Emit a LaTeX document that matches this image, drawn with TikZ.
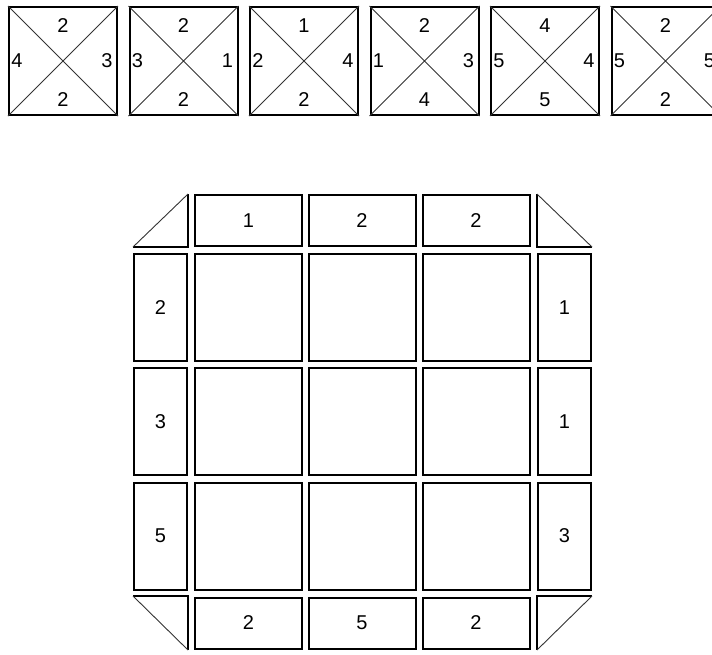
\documentclass[tikz,border=0pt]{standalone}
\usepackage{fontspec}
\setmainfont{Liberation Sans}
\usetikzlibrary{positioning}

\begin{document}
\begin{tikzpicture}[x=1pt, y=-1pt,
            tile/.style={draw=black, line width=2pt, minimum width=108pt, minimum height=108pt, inner sep=0pt},
            cellbox/.style={draw=black, line width=2pt, minimum width=107pt, minimum height=107pt, inner sep=0pt, font=\fontsize{20}{22}\selectfont},
            rowbox/.style={cellbox, minimum height=51pt},
            colbox/.style={cellbox, minimum width=53pt},
            diag/.style={draw=black!80, line width=0.9pt},
            edge/.style={draw=black, line width=2pt},
            num/.style={font=\fontsize{20}{22}\selectfont, inner sep=0pt}
        ]
            \useasboundingbox (0,0) rectangle (712,654);
            \clip (0,0) rectangle (712,654);

            % Top row (tiles)
            \node[tile] (t1) at (63, 61) {};
            \node[tile] (t2) at (183.5, 61) {};
            \node[tile] (t3) at (304, 61) {};
            \node[tile] (t4) at (424.5, 61) {};
            \node[tile] (t5) at (545, 61) {};
            \node[tile] (t6) at (665.5, 61) {};

            \draw[diag] (t1.north west) -- (t1.south east) (t1.north east) -- (t1.south west);
            \draw[diag] (t2.north west) -- (t2.south east) (t2.north east) -- (t2.south west);
            \draw[diag] (t3.north west) -- (t3.south east) (t3.north east) -- (t3.south west);
            \draw[diag] (t4.north west) -- (t4.south east) (t4.north east) -- (t4.south west);
            \draw[diag] (t5.north west) -- (t5.south east) (t5.north east) -- (t5.south west);
            \draw[diag] (t6.north west) -- (t6.south east) (t6.north east) -- (t6.south west);

            \node[num] (t1n) at (63, 26) {2};
            \node[num] (t1w) at (17, 61) {4};
            \node[num] (t1e) at (107, 61) {3};
            \node[num] (t1s) at (63, 100) {2};

            \node[num] (t2n) at (183.5, 26) {2};
            \node[num] (t2w) at (137.5, 61) {3};
            \node[num] (t2e) at (227.5, 61) {1};
            \node[num] (t2s) at (183.5, 100) {2};

            \node[num] (t3n) at (304, 26) {1};
            \node[num] (t3w) at (258, 61) {2};
            \node[num] (t3e) at (348, 61) {4};
            \node[num] (t3s) at (304, 100) {2};

            \node[num] (t4n) at (424.5, 26) {2};
            \node[num] (t4w) at (378.5, 61) {1};
            \node[num] (t4e) at (468.5, 61) {3};
            \node[num] (t4s) at (424.5, 100) {4};

            \node[num] (t5n) at (545, 26) {4};
            \node[num] (t5w) at (499, 61) {5};
            \node[num] (t5e) at (589, 61) {4};
            \node[num] (t5s) at (545, 100) {5};

            \node[num] (t6n) at (665.5, 26) {2};
            \node[num] (t6w) at (619.5, 61) {5};
            \node[num] (t6e) at (709.5, 61) {5};
            \node[num] (t6s) at (665.5, 100) {2};

            % Board: top and bottom edges
            \node[rowbox] (top1) at (248.5, 220.5) {1};
            \node[rowbox] (top2) at (362, 220.5) {2};
            \node[rowbox] (top3) at (476, 220.5) {2};
            \node[rowbox] (bot1) at (248.5, 623) {2};
            \node[rowbox] (bot2) at (362, 623) {5};
            \node[rowbox] (bot3) at (476, 623) {2};

            % Board: left and right edges
            \node[colbox] (lft1) at (160.5, 307.5) {2};
            \node[colbox] (lft2) at (160.5, 421.5) {3};
            \node[colbox] (lft3) at (160.5, 536) {5};
            \node[colbox] (rgt1) at (564.5, 307.5) {1};
            \node[colbox] (rgt2) at (564.5, 421.5) {1};
            \node[colbox] (rgt3) at (564.5, 536) {3};

            % Board: empty cells
            \node[cellbox] (c11) at (248.5, 307.5) {};
            \node[cellbox] (c12) at (362, 307.5) {};
            \node[cellbox] (c13) at (476, 307.5) {};
            \node[cellbox] (c21) at (248.5, 421.5) {};
            \node[cellbox] (c22) at (362, 421.5) {};
            \node[cellbox] (c23) at (476, 421.5) {};
            \node[cellbox] (c31) at (248.5, 536) {};
            \node[cellbox] (c32) at (362, 536) {};
            \node[cellbox] (c33) at (476, 536) {};

            % Corner triangles
            \coordinate (nw) at (133, 247);
            \coordinate (ne) at (592, 247);
            \coordinate (sw) at (133, 596);
            \coordinate (se) at (592, 596);
            \draw[edge] (nw) -- (188, 247) -- (188, 194);
            \draw[diag] (nw) -- (188, 194);
            \draw[edge] (ne) -- (537, 247) -- (537, 194);
            \draw[diag] (ne) -- (537, 194);
            \draw[edge] (sw) -- (188, 596) -- (188, 650);
            \draw[diag] (sw) -- (188, 650);
            \draw[edge] (se) -- (537, 596) -- (537, 650);
            \draw[diag] (se) -- (537, 650);

        \end{tikzpicture}
\end{document}
